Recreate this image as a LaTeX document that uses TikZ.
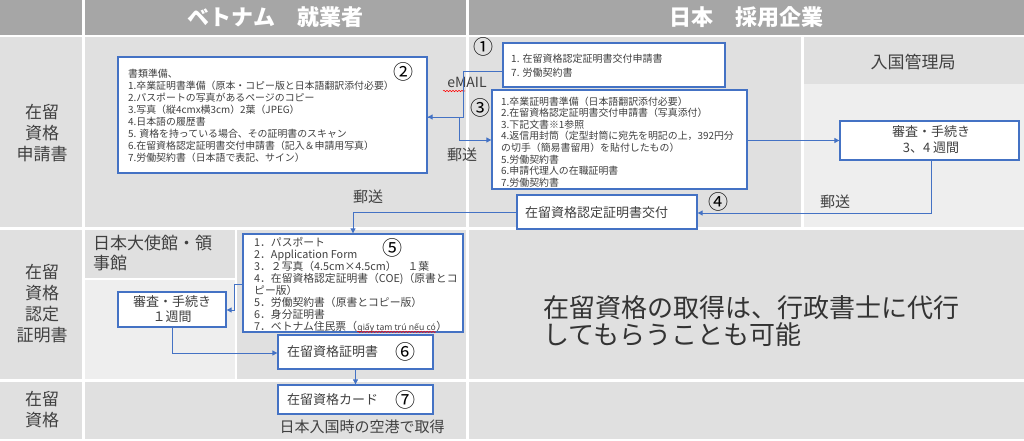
\documentclass[tikz,border=0pt]{standalone}
\usepackage{fontspec}
\setmainfont{Noto Sans CJK JP}
\newfontfamily\viet{Noto Sans}
\usetikzlibrary{arrows.meta,decorations.pathmorphing}
\definecolor{hdr}{HTML}{A6A6A6}
\definecolor{cellD}{HTML}{E0E0E0}
\definecolor{cellL}{HTML}{EEEEEE}
\definecolor{blu}{HTML}{4472C4}
\definecolor{txt}{HTML}{404040}
\newcommand\fs[2]{\fontsize{#1}{#2}\selectfont}
\begin{document}
\begin{tikzpicture}[x=1pt,y=-1pt,
  box/.style={draw=blu, line width=1.3pt, fill=white, inner sep=0pt},
  arr/.style={draw=blu, line width=0.9pt, -{Triangle[length=5pt,width=5pt]}},
  lbl/.style={text=txt, inner sep=0pt},
  num/.style={text=black, inner sep=0pt, font=\fs{20}{20}},
  wavy/.style={draw=red, line width=0.5pt, decorate, decoration={snake, amplitude=0.7pt, segment length=3pt}},
  hd/.style={text=white, inner sep=0pt, font=\fs{22}{22}\bfseries}]
\useasboundingbox (0,0) rectangle (1024,441);
\fill[white] (0,0) rectangle (1024,441);
% header
\fill[hdr] (0,0) rectangle (82,35);
\fill[hdr] (85,0) rectangle (466,35);
\fill[hdr] (469,0) rectangle (1024,35);
% row 1
\fill[cellD] (0,37) rectangle (82,227);
\fill[cellD] (85,37) rectangle (466,227);
\fill[cellD] (469,37) rectangle (801,227);
\fill[cellD] (804,37) rectangle (1024,84);
\fill[cellL] (804,84) rectangle (1024,227);
% row 2
\fill[cellD] (0,230) rectangle (82,379);
\fill[cellD] (85,230) rectangle (235,278);
\fill[cellL] (85,280) rectangle (235,379);
\fill[cellD] (237,230) rectangle (466,379);
\fill[cellD] (469,230) rectangle (1024,379);
% row 3
\fill[cellD] (0,382) rectangle (82,439);
\fill[cellD] (85,382) rectangle (466,439);
\fill[cellD] (469,382) rectangle (1024,439);

% headers and row labels
\node[hd] (h1) at (275.5,17) {ベトナム　就業者};
\node[hd] (h2) at (746.5,17) {日本　採用企業};
\node[lbl, align=center, font=\fs{17}{21}] (r1) at (42,133) {在留\\資格\\申請書};
\node[lbl, align=center, font=\fs{17}{21}] (r2) at (42,304) {在留\\資格\\認定\\証明書};
\node[lbl, align=center, font=\fs{17}{21}] (r3) at (42,410) {在留\\資格};
\node[lbl, font=\fs{17}{17}] (imm) at (913,62) {入国管理局};
\node[lbl, anchor=north west, align=left, font=\fs{17}{20}] (emb) at (93,235) {日本大使館・領\\事館};
\node[lbl, anchor=west, align=left, font=\fs{26}{27}, text=black!80] (note) at (543,321.5) {在留資格の取得は、行政書士に代行\\してもらうことも可能};

% boxes
\node[box, minimum width=309pt, minimum height=116pt] (b2) at (272.5,115) {};
\node[lbl, anchor=north west, align=left, font=\fs{9.9}{12}] (t2) at (128,68.5) {書類準備、\\1.卒業証明書準備（原本・コピー版と日本語翻訳添付必要）\\2.パスポートの写真があるページのコピー\\3.写真（縦4cmx横3cm）2葉（JPEG）\\4.日本語の履歴書\\5. 資格を持っている場合、その証明書のスキャン\\6.在留資格認定証明書交付申請書（記入＆申請用写真）\\7.労働契約書（日本語で表記、サイン）};
\node[num] (n2) at (403,72) {②};

\node[box, minimum width=222pt, minimum height=44pt] (b1) at (614,65) {};
\node[lbl, anchor=north west, align=left, font=\fs{10}{14}] (t1) at (511,53.5) {1. 在留資格認定証明書交付申請書\\7. 労働契約書};
\node[num] (n1) at (483,47) {①};

\node[box, minimum width=255pt, minimum height=99pt] (b3) at (619.5,139.5) {};
\node[lbl, anchor=north west, align=left, font=\fs{9.9}{11.6}] (t3) at (501,96.5) {1.卒業証明書準備（日本語翻訳添付必要）\\2.在留資格認定証明書交付申請書（写真添付）\\3.下記文書※1参照\\4.返信用封筒（定型封筒に宛先を明記の上，392円分\\の切手（簡易書留用）を貼付したもの）\\5.労働契約書\\6.申請代理人の在職証明書\\7.労働契約書};
\node[num] (n3) at (480,108) {③};

\node[box, minimum width=179pt, minimum height=39pt] (sA) at (929.5,140.5) {};
\node[lbl, align=center, font=\fs{13}{16}] (tA) at (931,140) {審査・手続き\\3、4 週間};

\node[box, minimum width=180pt, minimum height=34pt] (b4) at (607,212) {};
\node[lbl, anchor=west, font=\fs{13}{13}] (t4) at (525,213) {在留資格認定証明書交付};
\node[num] (n4) at (718,202) {④};

\node[box, minimum width=220pt, minimum height=98pt] (b5) at (353,283) {};
\node[lbl, anchor=north west, align=left, font=\fs{10.8}{12}] (t5) at (254,237) {1．パスポート\\2．Application Form\\3．２写真（4.5cm×4.5cm）　１葉\\4．在留資格認定証明書（COE)（原書とコ\\ピー版）\\5．労働契約書（原書とコピー版）\\6．身分証明書};
\node[lbl, anchor=base west, font=\fs{10.8}{12}] (t5a) at (254,330) {7．ベトナム住民票（};
\node[lbl, anchor=base west, font=\viet\fs{8.6}{12}] (t5b) at (t5a.base east) {giấy tạm trú nếu có};
\node[lbl, anchor=base west, font=\fs{10.8}{12}] (t5c) at (t5b.base east) {）};
\draw[wavy] ([yshift=-1.8pt]t5b.base west) -- ([yshift=-1.8pt]t5b.base east);
\node[num] (n5) at (392,248) {⑤};

\node[box, minimum width=108pt, minimum height=35pt] (sB) at (172,309.5) {};
\node[lbl, align=center, font=\fs{13}{15}] (tB) at (172,309.5) {審査・手続き\\１週間};

\node[box, minimum width=155pt, minimum height=34pt] (b6) at (355.5,352) {};
\node[lbl, anchor=west, font=\fs{13}{13}] (t6) at (287,352) {在留資格証明書};
\node[num] (n6) at (405,352) {⑥};

\node[box, minimum width=155pt, minimum height=29pt] (b7) at (355.5,399.5) {};
\node[lbl, anchor=west, font=\fs{13}{13}] (t7) at (287,400) {在留資格カード};
\node[num] (n7) at (405,400) {⑦};
\node[lbl, font=\fs{15}{15}] (air) at (362,427) {日本入国時の空港で取得};

% connector labels
\node[lbl, font=\fs{14}{14}] (em) at (467,82) {eMAIL};
\node[lbl, font=\fs{15}{15}] (y1) at (462,155) {郵送};
\node[lbl, font=\fs{15}{15}] (y2) at (835,202) {郵送};
\node[lbl, font=\fs{15}{15}] (y3) at (368,197) {郵送};
\coordinate (w1) at (443,91); \coordinate (w2) at (465,91);
\draw[wavy] (w1) -- (w2);

% connectors
\coordinate (k1) at (463,71); \coordinate (k2) at (463,117);
\draw[arr] (b1.west |- k1) -- (k1) -- (k2) -- (b2.east |- k2);
\coordinate (k3) at (459,117); \coordinate (k4) at (459,140);
\draw[arr] (b2.east |- k3) -- (k3) -- (k4) -- (b3.west |- k4);
\draw[arr] (b3.east |- sA.west) -- (sA.west);
\coordinate (k5) at (931,213);
\draw[arr] (sA.south -| k5) -- (k5) -- (b4.east |- k5);
\coordinate (k6) at (353,212);
\draw[arr] (b4.west |- k6) -- (k6) -- (b5.north);
\coordinate (k7) at (234,284); \coordinate (k8) at (234,310);
\draw[arr] (b5.west |- k7) -- (k7) -- (k8) -- (sB.east |- k8);
\coordinate (k9) at (172,353);
\draw[arr] (sB.south) -- (k9) -- (b6.west |- k9);
\draw[arr] (b6.south) -- (b7.north);
\end{tikzpicture}
\end{document}
